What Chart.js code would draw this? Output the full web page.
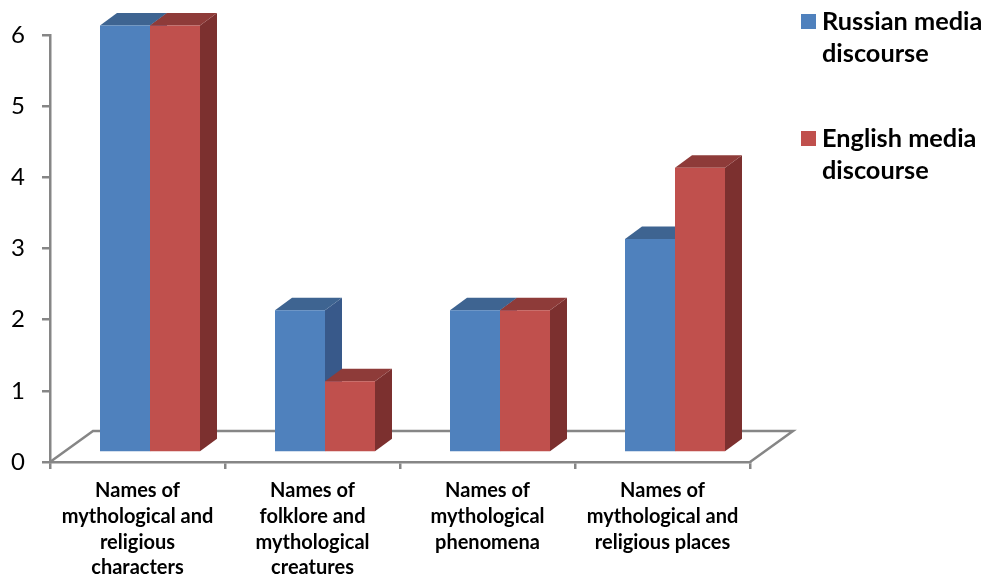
<!DOCTYPE html>
<html>
<head>
<meta charset="utf-8">
<style>
  html, body { margin: 0; padding: 0; background: #fff; }
  canvas { display: block; }
</style>
<script src="https://cdn.jsdelivr.net/npm/chart.js@4"></script>
</head>
<body>
<canvas id="Chart" width="985" height="577"></canvas>
<script>
const categories = [
    ['Names of', 'mythological and', 'religious', 'characters'],
    ['Names of', 'folklore and', 'mythological', 'creatures'],
    ['Names of', 'mythological', 'phenomena'],
    ['Names of', 'mythological and', 'religious places']
];
const russianValues = [6, 2, 2, 3];
const englishValues = [6, 1, 2, 4];
const yTicks = [0, 1, 2, 3, 4, 5, 6];
const russianLabel = ['Russian media', 'discourse'];
const englishLabel = ['English media', 'discourse'];

const axisGrey = '#868686';
const fontName = 'Lato, "Open Sans", sans-serif';

// bars sit partway back on the floor, their depth runs up and to the right
const barShift = { x: 12.5, y: -9.5 };
const barDepth = { x: 17, y: -12.5 };
const floorDepth = { x: 43, y: -31 };

function face(ctx, points, color) {
    ctx.beginPath();
    points.forEach((p, i) => i ? ctx.lineTo(p[0], p[1]) : ctx.moveTo(p[0], p[1]));
    ctx.closePath();
    ctx.fillStyle = color;
    ctx.fill();
}

const floorPlugin = {
    id: 'floor',
    beforeDatasetsDraw(chart) {
        const { ctx, chartArea: a } = chart;
        const y = chart.scales.y.getPixelForValue(0);
        ctx.save();
        ctx.strokeStyle = axisGrey;
        ctx.lineWidth = 2.5;
        ctx.beginPath();
        ctx.moveTo(a.left, y);
        ctx.lineTo(a.left + floorDepth.x, y + floorDepth.y);
        ctx.lineTo(a.right + floorDepth.x, y + floorDepth.y);
        ctx.lineTo(a.right, y);
        ctx.stroke();
        ctx.restore();
    }
};

// side and top faces go under the fronts the library draws
const depthPlugin = {
    id: 'depth',
    beforeDatasetsDraw(chart) {
        const ctx = chart.ctx;
        ctx.save();
        ctx.translate(barShift.x, barShift.y);
        chart.data.datasets.forEach((ds, i) => {
            chart.getDatasetMeta(i).data.forEach(bar => {
                const l = bar.x - bar.width / 2;
                const r = bar.x + bar.width / 2;
                const dx = barDepth.x, dy = barDepth.y;
                face(ctx, [[r, bar.y], [r + dx, bar.y + dy], [r + dx, bar.base + dy], [r, bar.base]], ds.sideColor);
                face(ctx, [[l, bar.y], [l + dx, bar.y + dy], [r + dx, bar.y + dy], [r, bar.y]], ds.topColor);
            });
        });
    },
    afterDatasetsDraw(chart) {
        chart.ctx.restore();
    }
};

const legendPlugin = {
    id: 'sideLegend',
    afterDraw(chart) {
        const ctx = chart.ctx;
        const rows = [14, 131];
        ctx.save();
        ctx.font = 'bold 25.3px ' + fontName;
        ctx.textBaseline = 'middle';
        ctx.textAlign = 'left';
        chart.data.datasets.forEach((ds, i) => {
            ctx.fillStyle = ds.backgroundColor;
            ctx.fillRect(801, rows[i], 15, 15);
            ctx.fillStyle = '#000';
            ds.label.forEach((line, j) => ctx.fillText(line, 822, rows[i] + 8 + j * 32));
        });
        ctx.restore();
    }
};

const ctx = document.getElementById('Chart').getContext('2d');
new Chart(ctx, {
    type: 'bar',
    data: {
        labels: categories,
        datasets: [{
            label: russianLabel,
            data: russianValues,
            backgroundColor: '#4F81BD',
            topColor: '#3E6491',
            sideColor: '#38598A',
            borderWidth: 0,
            clip: false
        }, {
            label: englishLabel,
            data: englishValues,
            backgroundColor: '#C0504D',
            topColor: '#8E3B39',
            sideColor: '#7C302F',
            borderWidth: 0,
            clip: false
        }]
    },
    plugins: [floorPlugin, depthPlugin, legendPlugin],
    options: {
        responsive: false,
        animation: false,
        layout: { padding: { top: 35, right: 235, left: 0, bottom: 0 } },
        categoryPercentage: 100 / 175,
        barPercentage: 1,
        plugins: {
            legend: { display: false },
            tooltip: { enabled: false }
        },
        scales: {
            x: {
                afterFit: scale => { scale.height = 115; },
                border: { color: axisGrey, width: 2.5 },
                grid: { drawOnChartArea: false, color: axisGrey, lineWidth: 2.5, tickLength: 7 },
                ticks: {
                    color: '#000',
                    autoSkip: false,
                    maxRotation: 0,
                    padding: 9,
                    font: { family: fontName, size: 20, weight: 'bold', lineHeight: 1.285 }
                }
            },
            y: {
                min: 0,
                max: 6,
                afterBuildTicks: scale => { scale.ticks = yTicks.map(value => ({ value })); },
                afterFit: scale => { scale.width = 50; },
                border: { color: axisGrey, width: 2.5 },
                grid: { drawOnChartArea: false, color: axisGrey, lineWidth: 2.5, tickLength: 8 },
                ticks: {
                    color: '#000',
                    padding: 17,
                    font: { family: fontName, size: 24 }
                }
            }
        }
    }
});
</script>
</body>
</html>
